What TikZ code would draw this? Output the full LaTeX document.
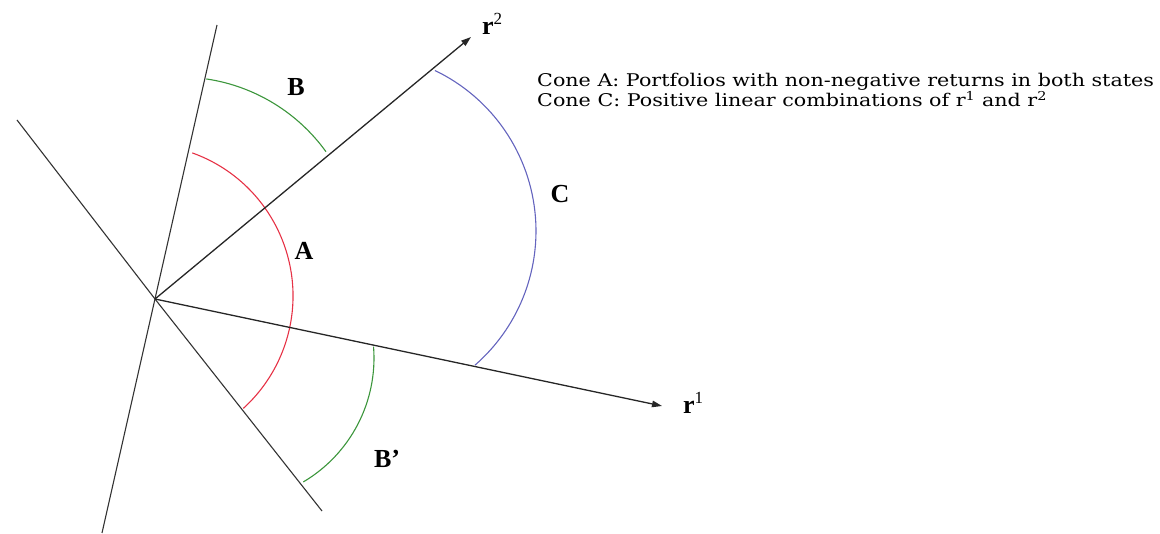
\documentclass[tikz,border=0pt]{standalone}
\usepackage{fontspec}
\setmainfont{Liberation Serif}
\newfontfamily\txtfont{DejaVu Serif}
\usetikzlibrary{arrows.meta}
\definecolor{arcgreen}{RGB}{60,150,60}
\definecolor{arcred}{RGB}{230,50,70}
\definecolor{arcblue}{RGB}{100,100,190}
\tikzset{
  axisline/.style={draw=black!85,line width=1.3pt,-{Triangle[length=10pt,width=6.5pt]}},
  bound/.style={draw=black!80,line width=1.1pt},
  conearc/.style={line width=1.1pt},
  lbl/.style={font=\fontsize{26}{28}\selectfont\bfseries,inner sep=0pt},
  rlbl/.style={font=\fontsize{26}{28}\selectfont,inner sep=0pt,anchor=base west},
  legend/.style={font=\txtfont\fontsize{17.5}{19}\selectfont,inner sep=0pt,anchor=base west}
}
\begin{document}
\begin{tikzpicture}[x=1pt,y=-1pt]
\useasboundingbox (0,0) rectangle (1160,534);
% apex and line ends
\coordinate (O) at (155,299);
\coordinate (L1a) at (217,25);
\coordinate (L1b) at (102,533);
\coordinate (L2a) at (17,120);
\coordinate (L2b) at (322,511);
\coordinate (R2) at (471,37);
\coordinate (R1) at (662,406);
% boundary lines
\draw[bound] (L1a) -- (L1b);
\draw[bound] (L2a) -- (O) -- (L2b);
% arcs (centres in picture coordinates)
\coordinate (cB) at (180,257);
\coordinate (cA) at (141,296);
\coordinate (cC) at (358,231);
\coordinate (cBp) at (230,358);
\draw[conearc,arcgreen] (cB) ++(81.6:180pt) arc[start angle=81.6,end angle=35.8,radius=180pt];
\draw[conearc,arcred] (cA) ++(70.3:152pt) arc[start angle=70.3,end angle=-47.7,radius=152pt];
\draw[conearc,arcblue] (cC) ++(64.4:178pt) arc[start angle=64.4,end angle=-48.9,radius=178pt];
\draw[conearc,arcgreen] (cBp) ++(4.5:144pt) arc[start angle=4.5,end angle=-59.4,radius=144pt];
% axes
\draw[axisline] (O) -- (R2);
\draw[axisline] (O) -- (R1);
% labels
\node[rlbl] (r2) at (482,35) {\textbf{r}\raisebox{10pt}{\fontsize{17}{17}\selectfont 2}};
\node[rlbl] (r1) at (683,414) {\textbf{r}\raisebox{10pt}{\fontsize{17}{17}\selectfont 1}};
\node[lbl] (B) at (296,87) {B};
\node[lbl] (A) at (304,251) {A};
\node[lbl] (C) at (560,194) {C};
\node[lbl] (Bp) at (387,459) {B’};
\node[legend] (t1) at (537,87) {\scalebox{1.18}[1]{Cone A: Portfolios with non-negative returns in both states}};
\node[legend] (t2) at (537,107) {\scalebox{1.18}[1]{Cone C: Positive linear combinations of r\textsuperscript{1} and r\textsuperscript{2}}};
\end{tikzpicture}
\end{document}
